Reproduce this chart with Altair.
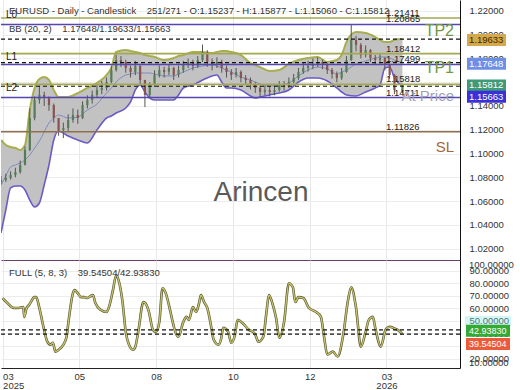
import altair as alt
import pandas as pd

FONT = "Liberation Sans"

# ---------------- data ----------------
candle_idx = list(range(0, 247, 3)) + [251]
closes = [
    1.0777, 1.0794, 1.0819, 1.0844, 1.0903, 1.1030, 1.1299, 1.1451, 1.1493, 1.1467,
    1.1408, 1.1299, 1.1198, 1.1215, 1.1282, 1.1324, 1.1299, 1.1408, 1.1451, 1.1493,
    1.1535, 1.1552, 1.1602, 1.1703, 1.1787, 1.1771, 1.1720, 1.1686, 1.1737, 1.1619,
    1.1493, 1.1577, 1.1661, 1.1703, 1.1686, 1.1720, 1.1661, 1.1703, 1.1745, 1.1771,
    1.1737, 1.1787, 1.1855, 1.1771, 1.1745, 1.1771, 1.1720, 1.1686, 1.1661, 1.1686,
    1.1636, 1.1619, 1.1577, 1.1552, 1.1518, 1.1535, 1.1518, 1.1535, 1.1577, 1.1568,
    1.1602, 1.1636, 1.1686, 1.1720, 1.1737, 1.1754, 1.1771, 1.1745, 1.1703, 1.1669,
    1.1636, 1.1686, 1.1787, 1.1956, 1.1914, 1.1829, 1.1872, 1.1804, 1.1787, 1.1804,
    1.1745, 1.1661, 1.1535, 1.15812]
highs = [
    1.0810, 1.0830, 1.0850, 1.0880, 1.0940, 1.1060, 1.1380, 1.1480, 1.1570, 1.1520,
    1.1480, 1.1420, 1.1300, 1.1260, 1.1330, 1.1380, 1.1370, 1.1440, 1.1490, 1.1530,
    1.1580, 1.1610, 1.1640, 1.1740, 1.1830, 1.1820, 1.1790, 1.1740, 1.1780, 1.1750,
    1.1620, 1.1600, 1.1700, 1.1740, 1.1730, 1.1750, 1.1730, 1.1740, 1.1780, 1.1800,
    1.1790, 1.1820, 1.1918, 1.1870, 1.1800, 1.1810, 1.1790, 1.1740, 1.1710, 1.1720,
    1.1700, 1.1660, 1.1640, 1.1600, 1.1570, 1.1570, 1.1560, 1.1570, 1.1610, 1.1610,
    1.1640, 1.1670, 1.1720, 1.1760, 1.1780, 1.1800, 1.1810, 1.1790, 1.1760, 1.1720,
    1.1690, 1.1720, 1.1820, 1.2082, 1.1990, 1.1930, 1.1910, 1.1880, 1.1830, 1.1840,
    1.1810, 1.1750, 1.1670, 1.15877]
lows = [
    1.0740, 1.0760, 1.0780, 1.0800, 1.0830, 1.0900, 1.1020, 1.1280, 1.1420, 1.1400,
    1.1360, 1.1260, 1.1150, 1.1130, 1.1190, 1.1260, 1.1250, 1.1290, 1.1380, 1.1420,
    1.1470, 1.1500, 1.1530, 1.1590, 1.1690, 1.1730, 1.1680, 1.1640, 1.1660, 1.1580,
    1.1391, 1.1470, 1.1560, 1.1640, 1.1640, 1.1660, 1.1620, 1.1640, 1.1680, 1.1720,
    1.1700, 1.1720, 1.1770, 1.1730, 1.1700, 1.1720, 1.1680, 1.1640, 1.1620, 1.1640,
    1.1600, 1.1580, 1.1540, 1.1510, 1.1470, 1.1490, 1.1480, 1.1490, 1.1520, 1.1530,
    1.1550, 1.1590, 1.1620, 1.1670, 1.1690, 1.1710, 1.1730, 1.1710, 1.1670, 1.1630,
    1.1600, 1.1620, 1.1680, 1.1780, 1.1860, 1.1800, 1.1810, 1.1770, 1.1750, 1.1760,
    1.1700, 1.1630, 1.1500, 1.15060]
first_open = 1.0760
last_open = 1.15237

band_idx = [
    0, 3, 6, 9, 12, 15, 18, 21, 24, 27,
    30, 33, 36, 42, 48, 54, 60, 66, 69, 72,
    78, 81, 84, 87, 90, 93, 96, 102, 108, 111,
    114, 120, 126, 132, 135, 138, 141, 144, 150, 156,
    159, 162, 168, 174, 180, 186, 192, 198, 204, 210,
    213, 216, 222, 228, 234, 237, 240, 243, 246, 251]
bb_upper = [
    1.1114, 1.1072, 1.1055, 1.1046, 1.1030, 1.1072, 1.1366, 1.1552, 1.1627, 1.1644,
    1.1619, 1.1535, 1.1476, 1.1476, 1.1509, 1.1552, 1.1594, 1.1661, 1.1720, 1.1855,
    1.1872, 1.1863, 1.1855, 1.1846, 1.1829, 1.1821, 1.1813, 1.1787, 1.1804, 1.1821,
    1.1829, 1.1855, 1.1855, 1.1846, 1.1855, 1.1863, 1.1863, 1.1855, 1.1829, 1.1762,
    1.1745, 1.1728, 1.1695, 1.1703, 1.1754, 1.1787, 1.1804, 1.1813, 1.1771, 1.1787,
    1.1829, 1.1939, 1.2023, 1.2015, 1.1981, 1.1956, 1.1939, 1.1939, 1.1956, 1.19633]
bb_mid = [
    1.0735, 1.0811, 1.0886, 1.0903, 1.0920, 1.0945, 1.0987, 1.1046, 1.1105, 1.1181,
    1.1257, 1.1299, 1.1324, 1.1299, 1.1307, 1.1366, 1.1417, 1.1509, 1.1552, 1.1602,
    1.1661, 1.1669, 1.1678, 1.1678, 1.1678, 1.1678, 1.1669, 1.1653, 1.1653, 1.1669,
    1.1686, 1.1720, 1.1737, 1.1745, 1.1737, 1.1720, 1.1703, 1.1686, 1.1644, 1.1619,
    1.1602, 1.1585, 1.1568, 1.1577, 1.1594, 1.1653, 1.1703, 1.1728, 1.1712, 1.1669,
    1.1686, 1.1703, 1.1754, 1.1779, 1.1804, 1.1813, 1.1813, 1.1804, 1.1787, 1.17648]
bb_lower = [
    1.0331, 1.0524, 1.0710, 1.0726, 1.0726, 1.0693, 1.0608, 1.0550, 1.0583, 1.0735,
    1.0903, 1.1114, 1.1189, 1.1147, 1.1114, 1.1088, 1.1198, 1.1299, 1.1316, 1.1341,
    1.1383, 1.1434, 1.1535, 1.1577, 1.1518, 1.1467, 1.1451, 1.1451, 1.1451, 1.1493,
    1.1552, 1.1577, 1.1619, 1.1653, 1.1661, 1.1602, 1.1552, 1.1552, 1.1535, 1.1484,
    1.1467, 1.1476, 1.1493, 1.1509, 1.1535, 1.1602, 1.1636, 1.1636, 1.1611, 1.1552,
    1.1518, 1.1493, 1.1484, 1.1518, 1.1552, 1.1577, 1.1720, 1.1728, 1.1636, 1.15663]

level_names = ["L0", "TP2", "L1", "TP1", "L2", "At Price", "SL"]
level_prices = [1.21411, 1.20865, 1.18412, 1.17499, 1.15818, 1.14711, 1.11826]
bb_now = [1.19633, 1.17648, 1.15663]
last_close = 1.15812

stoch_idx = [
    1, 4, 8, 11, 14, 14.5, 16, 17.5, 21, 22,
    24, 26, 29, 31, 32.5, 34, 36, 39, 41, 42.5,
    45, 46, 48, 50, 52, 54, 55, 57.5, 59, 62.5,
    66, 67.5, 70, 72, 74, 76, 78, 80, 82.5, 84,
    86, 89, 91, 92.5, 95, 97, 99, 101, 103, 105,
    107.5, 109, 111, 114, 116, 117.5, 120, 122, 124, 125,
    127, 129, 131, 133, 136, 137.5, 139, 142, 144, 146,
    148, 151, 155, 157.5, 159, 161, 164, 166, 167.5, 170,
    172, 174, 177, 180, 182.5, 184, 186, 189, 192.5, 197,
    200, 202, 204, 207.5, 210.5, 214, 217, 219, 222, 225,
    228, 230, 232.5, 234, 237.5, 240.5, 243, 246, 249, 251]
stoch_k = [
    68.2, 64.2, 60.3, 60.3, 61.0, 53.2, 60.3, 62.6, 68.9, 68.9,
    60.3, 48.4, 33.4, 31.1, 32.6, 25.5, 27.1, 31.1, 37.4, 52.4,
    72.1, 74.5, 72.1, 68.9, 68.9, 68.2, 68.9, 70.5, 64.2, 58.7,
    57.1, 61.0, 74.5, 86.3, 80.0, 65.0, 41.3, 31.1, 27.1, 29.5,
    42.9, 65.0, 62.6, 57.1, 42.9, 41.3, 49.2, 76.0, 72.1, 62.6,
    48.4, 41.3, 37.4, 49.2, 53.2, 50.8, 61.0, 57.1, 65.0, 70.5,
    65.0, 60.3, 48.4, 35.0, 31.1, 35.0, 44.5, 41.3, 32.6, 37.4,
    50.8, 48.4, 42.9, 41.3, 39.0, 33.4, 37.4, 57.1, 70.5, 62.6,
    52.4, 36.6, 49.2, 80.0, 76.8, 65.0, 68.9, 68.2, 60.3, 57.1,
    53.2, 37.4, 23.2, 25.5, 21.6, 39.0, 66.6, 76.8, 60.3, 29.5,
    41.3, 50.8, 53.2, 44.5, 29.5, 42.9, 45.3, 44.0, 42.0, 39.55]
stoch_now = [42.93830, 39.54504]

x_tick_vals = [1, 49, 97, 145, 193, 241]
x_tick_text = [["\u00a0\u00a003", "2025"], "05", "08", "10", "12", ["03", "2026"]]
price_ticks = [1.02, 1.04, 1.06, 1.08, 1.10, 1.12, 1.14, 1.16, 1.18, 1.20, 1.22]
sto_ticks = [20, 30, 40, 50, 60, 70, 80, 90]
sto_extra_labels = ["100.00000", "10.00000"]

title_main = "EURUSD - Daily - Candlestick\u00a0\u00a0\u00a0\u00a0251/271 - O:1.15237 - H:1.15877 - L:1.15060 - C:1.15812"
title_bb = "BB (20, 2)\u00a0\u00a0\u00a0\u00a01.17648/1.19633/1.15663"
title_sto = "FULL (5, 8, 3)\u00a0\u00a0\u00a0\u00a039.54504/42.93830"
watermark = "Arincen"

# ---------------- layout / styles ----------------
W, H_MAIN, H_SUB = 459, 260, 108
X_DOM = [0, 287]
PRICE_DOM = [1.01032, 1.22926]
STO_DOM = [12.5, 98.5]
FS = 9.5

level_style = {
    "L0": "#a3a851", "TP2": "#5546b0", "L1": "#a3a851", "TP1": "#5546b0",
    "L2": "#a3a851", "At Price": "#5546b0", "SL": "#8f6f4e"}

xscale = alt.Scale(domain=X_DOM, nice=False, zero=False)
pscale = alt.Scale(domain=PRICE_DOM, nice=False, zero=False)
sscale = alt.Scale(domain=STO_DOM, nice=False, zero=False)


def label_expr(vals, texts):
    parts = []
    for v, t in zip(vals, texts):
        if isinstance(t, list):
            s = "[" + ",".join("'%s'" % q for q in t) + "]"
        else:
            s = "'%s'" % t
        parts.append("datum.value == %s ? %s" % (v, s))
    return " : ".join(parts) + " : ''"


x_axis_main = alt.Axis(values=x_tick_vals, labels=False, ticks=False, domain=True,
                       domainColor="#6a3d6a", grid=True, gridColor="#e8e8e8", title=None)
x_axis_sub = alt.Axis(values=x_tick_vals, labelExpr=label_expr(x_tick_vals, x_tick_text),
                      labelFlush=5, labelFont=FONT, labelFontSize=FS, labelColor="#333",
                      labelPadding=3, labelLineHeight=9, ticks=False, domain=True,
                      domainColor="#222", grid=True, gridColor="#e8e8e8", title=None)
p_axis = alt.Axis(orient="right", values=price_ticks, format=".5f", labelFont=FONT,
                  labelFontSize=FS, labelColor="#333", labelPadding=9, ticks=False,
                  domain=True, domainColor="#111", grid=True, gridColor="#ececec", title=None)
s_axis = alt.Axis(orient="right", values=sto_ticks, format=".5f", labelFont=FONT,
                  labelFontSize=FS, labelColor="#333", labelPadding=9, ticks=False,
                  domain=True, domainColor="#111", grid=True, gridColor="#ececec", title=None)

# ---------------- main panel ----------------
opens = [first_open] + closes[:-1]
opens[-1] = last_open
cdf = pd.DataFrame({"i": candle_idx, "o": opens, "c": closes, "h": highs, "l": lows})
cdf["dir"] = ["up" if c >= o else "down" for o, c in zip(opens, closes)]
bdf = pd.DataFrame({"i": band_idx, "up": bb_upper, "mid": bb_mid, "lo": bb_lower})
ldf = pd.DataFrame({"name": level_names, "p": level_prices,
                    "col": [level_style[n] for n in level_names]})
bbdf = pd.DataFrame({"p": bb_now})


def X(f="i"):
    return alt.X(f + ":Q", scale=xscale, axis=x_axis_main)


def P(f="p"):
    return alt.Y(f + ":Q", scale=pscale, axis=p_axis)


area = alt.Chart(bdf).mark_area(color="#bfbfbf", opacity=0.95, clip=True, interpolate="monotone").encode(
    x=X(), y=P("up"), y2="lo:Q")
up_line = alt.Chart(bdf).mark_line(color="#a7ae4e", strokeWidth=2, clip=True, interpolate="monotone").encode(
    x=X(), y=P("up"))
lo_line = alt.Chart(bdf).mark_line(color="#6a5cc8", strokeWidth=1.6, clip=True, interpolate="monotone").encode(
    x=X(), y=P("lo"))
mid_line = alt.Chart(bdf).mark_line(color="#7f8bbd", strokeWidth=1, clip=True, interpolate="monotone").encode(
    x=X(), y=P("mid"))
wick = alt.Chart(cdf).mark_rule(color="#555555", strokeWidth=1, clip=True).encode(
    x=X(), y=P("l"), y2="h:Q")
body = alt.Chart(cdf).mark_rule(strokeWidth=2.2, clip=True).encode(
    x=X(), y=P("o"), y2="c:Q",
    color=alt.Color("dir:N", scale=alt.Scale(domain=["up", "down"], range=["#557d55", "#8a5252"]), legend=None))
lvl_rules = alt.Chart(ldf).mark_rule(strokeWidth=1.6).encode(
    y=P("p"), color=alt.Color("col:N", scale=None))
bb_rules = alt.Chart(bbdf).mark_rule(color="#111", strokeWidth=1.2, strokeDash=[4, 3]).encode(y=P("p"))
lvl_vals = alt.Chart(ldf).mark_text(align="left", baseline="bottom", font=FONT, fontSize=FS,
                                    color="#222").encode(
    x=alt.value(385), y=P("p"), text=alt.Text("p:Q", format=".5f"))

layers = [area, mid_line, up_line, lo_line, wick, body, lvl_rules, bb_rules, lvl_vals]

annot = {"TP2": ("#6f9843", 16, 7), "TP1": ("#6f9843", 16, 4),
         "At Price": ("#a0a0b6", 15, -2), "SL": ("#a8643a", 15, 15)}
for name, (col, fs, dy) in annot.items():
    d = ldf[ldf["name"] == name]
    layers.append(alt.Chart(d).mark_text(align="right", baseline="middle", font=FONT, fontSize=fs,
                                         color=col, dy=dy).encode(
        x=alt.value(453), y=P("p"), text="name:N"))
for name, dy in {"L0": -3, "L1": 3, "L2": 4}.items():
    d = ldf[ldf["name"] == name]
    layers.append(alt.Chart(d).mark_text(align="left", baseline="middle", font=FONT, fontSize=10,
                                         color="#222", dy=dy).encode(
        x=alt.value(5), y=P("p"), text="name:N"))

for txt, yy in [(title_main, 11), (title_bb, 29)]:
    layers.append(alt.Chart(pd.DataFrame({"t": [txt]})).mark_text(
        align="left", baseline="middle", font=FONT, fontSize=FS, color="#333").encode(
        x=alt.value(8), y=alt.value(yy), text="t:N"))
layers.append(alt.Chart(pd.DataFrame({"t": [watermark]})).mark_text(
    align="center", baseline="middle", font=FONT, fontSize=28, color="#5a5a5a").encode(
    x=alt.value(260), y=alt.value(193), text="t:N"))

box_rows = [(bb_now[0], "#d6a84c", "#3b2b00", 1), (bb_now[1], "#6d8fe6", "white", 1),
            (last_close, "#3f9a78", "white", 1), (bb_now[2], "#3a30d8", "white", 10.5)]
for pv, bg, fg, sh in box_rows:
    d = pd.DataFrame({"p": [pv]})
    layers.append(alt.Chart(d).mark_rect(color=bg, yOffset=sh - 6, y2Offset=sh + 6).encode(
        x=alt.value(466), x2=alt.value(505), y=P("p"), y2="p:Q"))
    layers.append(alt.Chart(d).mark_text(align="left", baseline="middle", font=FONT, fontSize=FS,
                                         color=fg, dy=sh).encode(
        x=alt.value(468), y=P("p"), text=alt.Text("p:Q", format=".5f")))

main = alt.layer(*layers).properties(width=W, height=H_MAIN)

# ---------------- stochastic panel ----------------
sdf = pd.DataFrame({"i": stoch_idx, "v": stoch_k})
snow = pd.DataFrame({"v": stoch_now})


def XS(f="i"):
    return alt.X(f + ":Q", scale=xscale, axis=x_axis_sub)


def S(f="v"):
    return alt.Y(f + ":Q", scale=sscale, axis=s_axis)


s_layers = [
    alt.Chart(sdf).mark_line(color="#5a5a34", strokeWidth=2.6, clip=True, interpolate="monotone").encode(
        x=XS(), y=S()),
    alt.Chart(sdf).mark_line(color="#c9c56e", strokeWidth=1.3, clip=True, interpolate="monotone").encode(
        x=XS(), y=S()),
    alt.Chart(snow).mark_rule(color="#111", strokeWidth=1.2, strokeDash=[4, 3]).encode(y=S()),
    alt.Chart(pd.DataFrame({"t": [title_sto]})).mark_text(
        align="left", baseline="middle", font=FONT, fontSize=FS, color="#333").encode(
        x=alt.value(8), y=alt.value(13), text="t:N"),
    alt.Chart(pd.DataFrame({"v": [50]})).mark_rect(color="#7fe6e6", opacity=0.35, yOffset=-5, y2Offset=5).encode(
        x=alt.value(464), x2=alt.value(510), y=S(), y2="v:Q"),
]
for txt, yy in zip(sto_extra_labels, [5, 102.5]):
    s_layers.append(alt.Chart(pd.DataFrame({"t": [txt]})).mark_text(
        align="left", baseline="middle", font=FONT, fontSize=FS, color="#333").encode(
        x=alt.value(468), y=alt.value(yy), text="t:N"))
for vv, bg, sh in [(stoch_now[0], "#35a935", 1), (stoch_now[1], "#ec5a3c", 10)]:
    d = pd.DataFrame({"v": [vv]})
    s_layers.append(alt.Chart(d).mark_rect(color=bg, yOffset=sh - 6, y2Offset=sh + 6).encode(
        x=alt.value(465), x2=alt.value(509), y=S(), y2="v:Q"))
    s_layers.append(alt.Chart(d).mark_text(align="left", baseline="middle", font=FONT, fontSize=9,
                                           color="white", dy=sh).encode(
        x=alt.value(468), y=S(), text=alt.Text("v:Q", format=".5f")))

sub = alt.layer(*s_layers).properties(width=W, height=H_SUB)

chart = alt.vconcat(main, sub, spacing=0, bounds="flush").configure_view(stroke=None).properties(
    padding={"left": 0, "top": 0, "right": 0, "bottom": 0}, background="white")

chart.save("out.html", embed_options={"renderer": "svg", "actions": False})
